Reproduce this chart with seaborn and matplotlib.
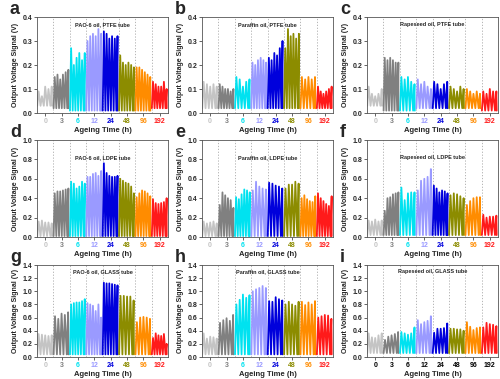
import numpy as np
import pandas as pd
import matplotlib
matplotlib.use("Agg")
import matplotlib.pyplot as plt
import seaborn as sns

# -- Data (peak values of each pulse)
ages = ["0", "3", "6", "12", "24", "48", "96", "192"]
age_colors = ["#c4c4c4", "#808080", "#00e2f0", "#9a9aff", "#0000dc",
              "#8c8c00", "#ff8c00", "#ff1a1a"]

peaks_a = [[0.09, 0.07, 0.11, 0.10, 0.11],
           [0.15, 0.16, 0.14, 0.16, 0.17, 0.18],
           [0.27, 0.20, 0.23, 0.25, 0.22, 0.25],
           [0.30, 0.32, 0.33, 0.32, 0.35, 0.33],
           [0.34, 0.33, 0.31, 0.32, 0.31, 0.32],
           [0.24, 0.21, 0.20, 0.21, 0.20, 0.19],
           [0.19, 0.19, 0.18, 0.17, 0.16, 0.15],
           [0.13, 0.12, 0.11, 0.11, 0.13, 0.10]]
peaks_b = [[0.13, 0.12, 0.11, 0.12, 0.11],
           [0.12, 0.11, 0.10, 0.10, 0.09, 0.10],
           [0.15, 0.14, 0.11, 0.13, 0.14],
           [0.21, 0.20, 0.22, 0.23, 0.22, 0.21],
           [0.23, 0.22, 0.25, 0.24, 0.27, 0.30],
           [0.27, 0.35, 0.32, 0.33, 0.31, 0.33],
           [0.15, 0.14, 0.15, 0.14, 0.15],
           [0.11, 0.09, 0.08, 0.09, 0.10, 0.11]]
peaks_c = [[0.11, 0.08, 0.07, 0.08, 0.10],
           [0.23, 0.22, 0.23, 0.22, 0.21, 0.21],
           [0.15, 0.14, 0.15, 0.13, 0.12],
           [0.14, 0.12, 0.13, 0.11, 0.10],
           [0.13, 0.12, 0.10, 0.12, 0.13],
           [0.11, 0.10, 0.09, 0.11, 0.10],
           [0.10, 0.09, 0.08, 0.09, 0.08],
           [0.09, 0.08, 0.10, 0.09, 0.09]]
peaks_d = [[0.16, 0.17, 0.15, 0.15, 0.14],
           [0.45, 0.47, 0.47, 0.48, 0.49, 0.50],
           [0.57, 0.55, 0.50, 0.52, 0.57, 0.55],
           [0.62, 0.62, 0.65, 0.66, 0.63, 0.68],
           [0.76, 0.66, 0.63, 0.62, 0.62, 0.63],
           [0.60, 0.58, 0.56, 0.55, 0.52, 0.45],
           [0.41, 0.45, 0.48, 0.47, 0.45, 0.42],
           [0.39, 0.35, 0.34, 0.35, 0.36, 0.40]]
peaks_e = [[0.16, 0.14, 0.15, 0.16, 0.14],
           [0.33, 0.46, 0.43, 0.40, 0.38, 0.30],
           [0.41, 0.39, 0.44, 0.49, 0.48, 0.46],
           [0.48, 0.57, 0.52, 0.50, 0.49],
           [0.56, 0.55, 0.53, 0.52, 0.50],
           [0.50, 0.54, 0.54, 0.57, 0.55],
           [0.40, 0.43, 0.39, 0.37, 0.36, 0.42],
           [0.45, 0.40, 0.37, 0.34, 0.32, 0.42]]
peaks_f = [[0.17, 0.16, 0.18, 0.16, 0.17],
           [0.27, 0.40, 0.41, 0.44, 0.45, 0.46],
           [0.51, 0.38, 0.45, 0.46, 0.46],
           [0.48, 0.58, 0.60, 0.62, 0.70],
           [0.53, 0.50, 0.46, 0.48, 0.47, 0.45],
           [0.43, 0.45, 0.44, 0.42, 0.40],
           [0.33, 0.37, 0.40, 0.41, 0.41],
           [0.23, 0.20, 0.21, 0.21, 0.22]]
peaks_g = [[0.35, 0.34, 0.33, 0.32, 0.33],
           [0.62, 0.58, 0.66, 0.64, 0.68],
           [0.80, 0.82, 0.83, 0.83, 0.85, 0.88],
           [0.82, 0.80, 0.78, 0.70, 0.80, 0.60],
           [1.13, 1.12, 1.12, 1.11, 1.10, 1.09],
           [0.93, 0.93, 0.92, 0.92, 0.86],
           [0.53, 0.60, 0.61, 0.60, 0.58],
           [0.29, 0.36, 0.33, 0.32, 0.35, 0.20]]
peaks_h = [[0.36, 0.28, 0.31, 0.30, 0.28],
           [0.52, 0.56, 0.59, 0.55, 0.64],
           [0.80, 0.87, 0.95, 0.90, 0.94],
           [1.00, 1.03, 1.05, 1.08, 1.05],
           [0.85, 0.84, 0.91, 0.88, 0.86],
           [0.80, 0.84, 0.80, 0.78, 0.84],
           [0.84, 0.79, 0.83, 0.80, 0.85],
           [0.60, 0.62, 0.64, 0.63, 0.58]]
peaks_i = [[0.36, 0.30, 0.29, 0.33, 0.36],
           [0.26, 0.31, 0.33, 0.35, 0.38],
           [0.38, 0.36, 0.34, 0.36, 0.45],
           [0.56, 0.50, 0.53, 0.55, 0.62],
           [0.37, 0.43, 0.43, 0.44, 0.51],
           [0.43, 0.43, 0.42, 0.42, 0.40],
           [0.53, 0.46, 0.41, 0.44, 0.45],
           [0.45, 0.52, 0.50, 0.49, 0.47]]

troughs_a = [0.03, 0.02, 0.01, 0.01, 0.01, 0.01, 0.01, 0.02]
troughs_b = [0.02, 0.02, 0.02, 0.02, 0.02, 0.02, 0.02, 0.02]
troughs_c = [0.03, 0.01, 0.01, 0.02, 0.02, 0.02, 0.02, 0.01]
troughs_d = [0.01, 0.01, 0.01, 0.01, 0.01, 0.01, 0.01, 0.01]
troughs_e = [0.01, 0.01, 0.01, 0.01, 0.01, 0.01, 0.01, 0.01]
troughs_f = [0.02, 0.02, 0.02, 0.02, 0.02, 0.02, 0.02, 0.02]
troughs_g = [0.04, 0.04, 0.04, 0.04, 0.04, 0.04, 0.04, 0.04]
troughs_h = [0.04, 0.04, 0.04, 0.04, 0.04, 0.04, 0.04, 0.04]
troughs_i = [0.06, 0.06, 0.06, 0.06, 0.06, 0.06, 0.06, 0.06]

titles = ["PAO-6 oil, PTFE tube", "Paraffin oil, PTFE tube", "Rapeseed oil, PTFE tube",
          "PAO-6 oil, LDPE tube", "Paraffin oil, LDPE tube", "Rapeseed oil, LDPE tube",
          "PAO-6 oil, GLASS tube", "Paraffin oil, GLASS tube", "Rapeseed oil, GLASS tube"]
letters = list("abcdefghi")
panel_peaks = [peaks_a, peaks_b, peaks_c, peaks_d, peaks_e, peaks_f, peaks_g, peaks_h, peaks_i]
panel_troughs = [troughs_a, troughs_b, troughs_c, troughs_d, troughs_e, troughs_f,
                 troughs_g, troughs_h, troughs_i]
row_ymax = [0.4, 1.0, 1.4]
row_ystep = [0.1, 0.2, 0.2]


def pulses(peaks, troughs):
    # zigzag trace: trough - peak - trough ... inside each ageing slot
    rows = []
    for k, (pk, tr) in enumerate(zip(peaks, troughs)):
        n = len(pk)
        step = 1.0 / n
        for j, p in enumerate(pk):
            x0 = k + j * step
            rows.append((x0 + 0.08 * step, tr, ages[k]))
            rows.append((x0 + 0.5 * step, p, ages[k]))
        rows.append((k + 0.92, tr, ages[k]))
    return pd.DataFrame(rows, columns=["x", "y", "age"])


sns.set_style("ticks")
plt.rcParams["font.family"] = ["Liberation Sans", "DejaVu Sans"]

fig = plt.figure(figsize=(5, 3.79), dpi=100)
W, H = 500, 379
col_left = [37, 202, 367]
row_top = [17, 140, 265]
row_bot = [113, 237, 357]

for idx in range(9):
    r, c = divmod(idx, 3)
    ax = fig.add_axes([col_left[c] / W, 1 - row_bot[r] / H, 131 / W,
                       (row_bot[r] - row_top[r]) / H])
    df = pulses(panel_peaks[idx], panel_troughs[idx])
    sns.lineplot(data=df, x="x", y="y", hue="age", palette=age_colors,
                 hue_order=ages, sort=False, estimator=None, lw=1.3,
                 legend=False, ax=ax)
    for b in range(1, 8):
        ax.axvline(b, color="#aaaaaa", ls=(0, (1.5, 2)), lw=0.6, zorder=0)
    ax.set_xlim(0, 8)
    ax.set_ylim(0, row_ymax[r])
    ax.set_yticks(np.arange(0, row_ymax[r] + 1e-6, row_ystep[r]))
    ax.set_yticklabels([f"{v:.1f}" for v in ax.get_yticks()])
    ax.set_xticks(np.arange(8) + 0.5)
    ax.set_xticklabels(ages)
    for t, col in zip(ax.get_xticklabels(), age_colors):
        t.set_color("black" if idx == 8 else col)
        t.set_fontweight("bold")
    ax.tick_params(axis="both", labelsize=5, length=2, width=0.5, pad=1.5)
    for t in ax.get_yticklabels():
        t.set_fontweight("bold")
    for s in ax.spines.values():
        s.set_linewidth(0.6)
        s.set_color("#555555")
    ax.set_xlabel("Ageing Time (h)", fontsize=5.5, fontweight="bold", labelpad=1.5)
    ax.set_ylabel("Output Voltage Signal (V)", fontsize=5, fontweight="bold", labelpad=2)
    ty = [0.92, 0.82, 0.93][r]
    ax.text(0.5, ty, titles[idx], transform=ax.transAxes, ha="center", va="center",
            fontsize=4, fontweight="bold")
    fig.text((col_left[c] - 27) / W, 1 - (row_top[r] - 3) / H, letters[idx],
             fontsize=13, fontweight="bold", ha="left", va="baseline")

fig.savefig("out.png", dpi=100)
